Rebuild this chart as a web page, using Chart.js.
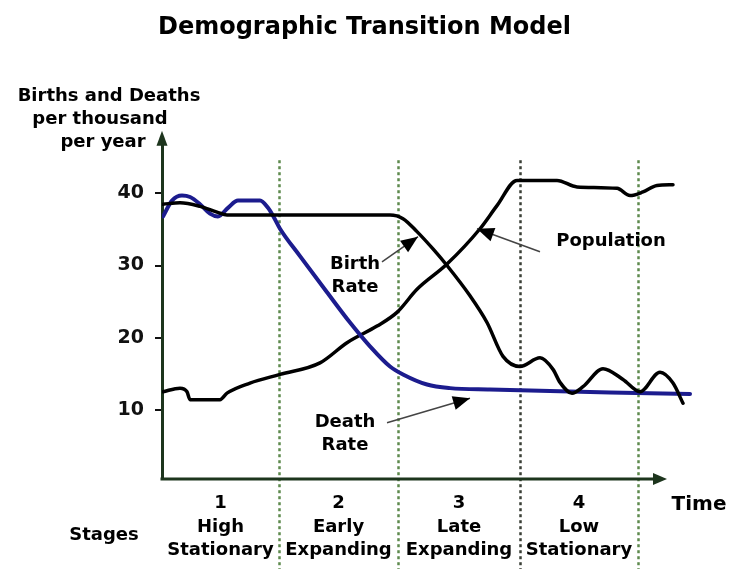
<!DOCTYPE html>
<html>
<head>
<meta charset="utf-8">
<title>Demographic Transition Model</title>
<script src="https://cdn.jsdelivr.net/npm/chart.js@4.4.0/dist/chart.umd.min.js"></script>
<style>
  html, body { margin: 0; padding: 0; background: #fff; }
</style>
</head>
<body>
<canvas id="dtm" width="729" height="569"></canvas>
<script>
// time runs left to right in arbitrary units, rates are per thousand per year
const birthTime = [0.2, 3.6, 7.6, 11, 13, 45.6, 48.2, 51, 54.2, 57, 61.6, 65, 68.2, 71.6, 75.6, 78.2, 79.6, 82, 84.2, 88.2, 92.2, 95.6, 99.6, 102.2, 104.2];
const birthRate = [38.5, 38.7, 38.2, 37.4, 37.0, 37.0, 36.5, 34.7, 32.3, 30.0, 25.8, 22.1, 17.4, 16.0, 17.2, 15.6, 13.8, 12.3, 13.2, 15.7, 14.2, 12.5, 15.2, 13.7, 10.9];

const deathTime = [0.2, 2, 4, 5.6, 7.6, 9.6, 11.2, 13.2, 15.2, 19.6, 21.2, 22.2, 23.6, 27.6, 33, 37.6, 41.6, 45.6, 48.2, 53, 57.6, 65.6, 77.6, 89.6, 105.6];
const deathRate = [36.8, 39.0, 39.7, 39.5, 38.5, 37.2, 36.8, 38.0, 39.0, 39.0, 38.0, 36.9, 35.1, 31.3, 26.3, 22.1, 18.8, 16.0, 14.9, 13.5, 13.0, 12.8, 12.6, 12.4, 12.2];

const popTime = [0.2, 3.6, 5, 5.6, 11.6, 13, 17.6, 23.6, 31.6, 37, 43, 47, 51, 57, 63.6, 67, 71, 79, 83, 91, 93.6, 96.2, 99, 102.2];
const population = [12.5, 13.0, 12.5, 11.4, 11.4, 12.3, 13.7, 14.9, 16.5, 19.3, 21.6, 23.5, 26.7, 30.2, 35.1, 38.3, 41.8, 41.8, 40.9, 40.7, 39.7, 40.2, 41.1, 41.2];

const yTicks = [10, 20, 30, 40];
const stageEnds = [23.4, 47.2, 71.6, 95.2];
const stageNumbers = ['1', '2', '3', '4'];
const stageNames = [['High', 'Stationary'], ['Early', 'Expanding'], ['Late', 'Expanding'], ['Low', 'Stationary']];

// callouts: text lines at a point, arrow from -> to (data units)
const callouts = [
  { lines: ['Birth', 'Rate'], at: [38.6, 30.1], from: [44, 30.5], to: [51.2, 34.0] },
  { lines: ['Population'], at: [89.8, 33.3], from: [75.6, 31.9], to: [63, 35.1] },
  { lines: ['Death', 'Rate'], at: [36.6, 8.2], from: [45, 8.2], to: [61.6, 11.6] }
];

const FONT = 'DejaVu Sans';
const axisColor = '#1d351d';

function pts(xs, ys) {
  return xs.map((x, i) => ({ x: x, y: ys[i] }));
}

function arrowHead(ctx, x0, y0, x1, y1, len, half) {
  const a = Math.atan2(y1 - y0, x1 - x0);
  ctx.beginPath();
  ctx.moveTo(x1, y1);
  ctx.lineTo(x1 - len * Math.cos(a) + half * Math.sin(a), y1 - len * Math.sin(a) - half * Math.cos(a));
  ctx.lineTo(x1 - len * Math.cos(a) - half * Math.sin(a), y1 - len * Math.sin(a) + half * Math.cos(a));
  ctx.closePath();
  ctx.fill();
}

const decor = {
  id: 'decor',
  beforeDatasetsDraw(chart) {
    const ctx = chart.ctx, x = chart.scales.x, y = chart.scales.y;
    const top = y.getPixelForValue(44.6);
    ctx.save();
    ctx.lineWidth = 2.5;
    ctx.setLineDash([3, 3]);
    stageEnds.forEach((t, i) => {
      const px = Math.round(x.getPixelForValue(t)) + 0.5;
      ctx.strokeStyle = i === 2 ? '#3a3f36' : '#5e8a4e';
      ctx.beginPath();
      ctx.moveTo(px, top);
      ctx.lineTo(px, chart.height);
      ctx.stroke();
    });
    ctx.restore();
  },
  afterDatasetsDraw(chart) {
    const ctx = chart.ctx, x = chart.scales.x, y = chart.scales.y;
    const area = chart.chartArea;
    ctx.save();
    ctx.fillStyle = axisColor;
    ctx.strokeStyle = axisColor;
    ctx.lineWidth = 3;
    // x axis with arrow
    const xEnd = x.getPixelForValue(101);
    ctx.beginPath();
    ctx.moveTo(area.left - 1.5, area.bottom);
    ctx.lineTo(xEnd - 10, area.bottom);
    ctx.stroke();
    arrowHead(ctx, area.left, area.bottom, xEnd, area.bottom, 14, 6);
    // y axis arrow
    arrowHead(ctx, area.left, area.bottom, area.left, area.top - 15, 15, 5.5);

    // callouts
    ctx.fillStyle = '#000';
    ctx.font = 'bold 18px "' + FONT + '"';
    ctx.textAlign = 'center';
    ctx.textBaseline = 'middle';
    callouts.forEach(c => {
      const cx = x.getPixelForValue(c.at[0]);
      const cy = y.getPixelForValue(c.at[1]);
      const gap = c.lines.length > 1 ? 23 : 0;
      c.lines.forEach((l, i) => ctx.fillText(l, cx, cy + i * gap));
      const fx = x.getPixelForValue(c.from[0]), fy = y.getPixelForValue(c.from[1]);
      const tx = x.getPixelForValue(c.to[0]), ty = y.getPixelForValue(c.to[1]);
      ctx.strokeStyle = '#444';
      ctx.lineWidth = 1.5;
      ctx.beginPath();
      ctx.moveTo(fx, fy);
      ctx.lineTo(tx, ty);
      ctx.stroke();
      arrowHead(ctx, fx, fy, tx, ty, 17, 7);
    });

    // y axis title
    ctx.font = 'bold 18px "' + FONT + '"';
    ctx.fillText('Births and Deaths', 109, 96);
    ctx.fillText('per thousand', 100, 119);
    ctx.fillText('per year', 103, 142);

    // stage labels under the axis
    let prev = 0;
    stageEnds.forEach((t, i) => {
      const cx = (x.getPixelForValue(prev) + x.getPixelForValue(t)) / 2;
      ctx.font = 'bold 18px "' + FONT + '"';
      ctx.fillText(stageNumbers[i], cx, area.bottom + 24);
      ctx.fillText(stageNames[i][0], cx, area.bottom + 48);
      ctx.fillText(stageNames[i][1], cx, area.bottom + 71);
      prev = t;
    });
    ctx.fillText('Stages', 104, area.bottom + 56);
    ctx.font = 'bold 20px "' + FONT + '"';
    ctx.fillText('Time', 699, area.bottom + 26);
    ctx.restore();
  }
};

new Chart(document.getElementById('dtm'), {
  type: 'line',
  data: {
    datasets: [
      { label: 'Birth Rate', data: pts(birthTime, birthRate), borderColor: '#000', borderWidth: 3.5 },
      { label: 'Death Rate', data: pts(deathTime, deathRate), borderColor: '#1c1c8e', borderWidth: 4 },
      { label: 'Population', data: pts(popTime, population), borderColor: '#000', borderWidth: 3.5 }
    ]
  },
  options: {
    responsive: false,
    animation: false,
    events: [],
    layout: { padding: 0 },
    elements: {
      point: { radius: 0 },
      line: { cubicInterpolationMode: 'monotone', borderCapStyle: 'round', borderJoinStyle: 'round' }
    },
    plugins: {
      legend: { display: false },
      tooltip: { enabled: false },
      title: {
        display: true,
        text: 'Demographic Transition Model',
        color: '#000',
        font: { family: FONT, weight: 'bold', size: 24 },
        padding: { top: 13, bottom: 104 }
      }
    },
    scales: {
      x: {
        type: 'linear',
        min: 0,
        max: 113.4,
        afterFit: s => { s.height = 90; },
        border: { display: false },
        grid: { display: false },
        ticks: { display: false }
      },
      y: {
        type: 'linear',
        min: 0.4,
        max: 46.6,
        afterBuildTicks: s => { s.ticks = yTicks.map(v => ({ value: v })); },
        afterFit: s => { s.width = 162; },
        border: { display: true, color: axisColor, width: 3 },
        grid: { drawOnChartArea: false, drawTicks: true, tickLength: 7, tickColor: '#111', lineWidth: 2 },
        ticks: { color: '#111', padding: 11, font: { family: FONT, weight: 'bold', size: 19 } }
      }
    }
  },
  plugins: [decor]
});
</script>
</body>
</html>
